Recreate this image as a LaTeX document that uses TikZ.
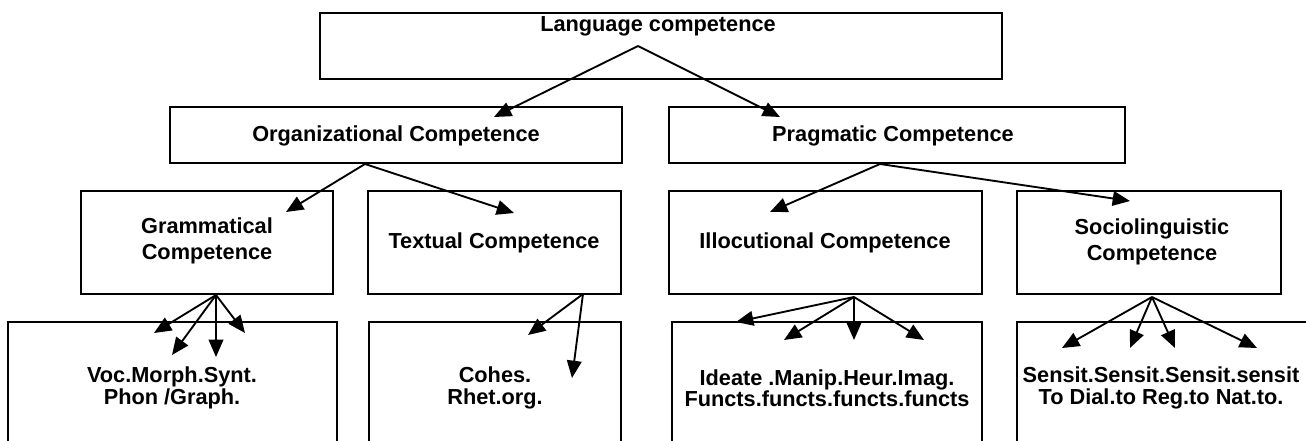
\documentclass[tikz,border=0pt]{standalone}
\usepackage{fontspec}
\setmainfont{Liberation Sans}
\usetikzlibrary{arrows.meta,fit}
\begin{document}
\begin{tikzpicture}[x=0.75pt,y=-0.75pt,
  box/.style={draw,line width=1.35pt,inner sep=0pt},
  lbl/.style={font=\fontsize{16.3}{16}\selectfont\bfseries,align=center,inner sep=0pt},
  lbltwo/.style={font=\fontsize{16.3}{19.5}\selectfont\bfseries,align=center,inner sep=0pt},
  arr/.style={line width=1.4pt,-{Triangle[length=13pt,width=11pt]}}]
\path[use as bounding box, clip] (0,0) rectangle (1306,441);

% level 1
\node[box,fit={(320,13) (1002,79)}] (lc) {};
\node[lbl] (lct) at (658,26) {Language competence};
% level 2
\node[box,fit={(170,107) (622,163)}] (oc) {};
\node[lbl] (oct) at (396,136) {Organizational Competence};
\node[box,fit={(669,107) (1125,163)}] (pc) {};
\node[lbl] (pct) at (893,136) {Pragmatic Competence};
% level 3
\node[box,fit={(81,191) (333,294)}] (gc) {};
\node[lbltwo] (gct) at (207,241) {Grammatical\\Competence};
\node[box,fit={(368,191) (621,294)}] (tc) {};
\node[lbl] (tct) at (494,243) {Textual Competence};
\node[box,fit={(669,191) (982,294)}] (ic) {};
\node[lbl] (ict) at (825,243) {Illocutional Competence};
\node[box,fit={(1017,191) (1281,294)}] (sc) {};
\node[lbltwo] (sct) at (1152,242) {Sociolinguistic\\Competence};
% level 4
\node[box,fit={(8,322) (337,452)}] (b1) {};
\node[lbl] (b1t) at (172,388) {Voc.Morph.Synt.\\Phon /Graph.};
\node[box,fit={(369,322) (621,452)}] (b2) {};
\node[lbl] (b2t) at (495,388) {Cohes.\\Rhet.org.};
\node[box,fit={(672,322) (982,452)}] (b3) {};
\node[lbl] (b3t) at (827,388) {Ideate .Manip.Heur.Imag.\\Functs.functs.functs.functs};
\node[box,fit={(1017,322) (1330,452)}] (b4) {};
\node[lbl] (b4t) at (1161,388) {Sensit.Sensit.Sensit.sensit\\To Dial.to Reg.to Nat.to.};

% connectors
\coordinate (lcA) at (638,46);
\coordinate (ocIn) at (494,117);
\coordinate (pcIn) at (780,117);
\draw[arr] (lcA) -- (ocIn);
\draw[arr] (lcA) -- (pcIn);

\coordinate (ocA) at (365,164);
\coordinate (gcIn) at (286,212);
\coordinate (tcIn) at (514,213);
\draw[arr] (ocA) -- (gcIn);
\draw[arr] (ocA) -- (tcIn);

\coordinate (pcA) at (880,164);
\coordinate (icIn) at (770,212);
\coordinate (scIn) at (1130,201);
\draw[arr] (pcA) -- (icIn);
\draw[arr] (pcA) -- (scIn);

\coordinate (gcA) at (216,295);
\coordinate (g1) at (154,333);
\coordinate (g2) at (172,355);
\coordinate (g3) at (216,357);
\coordinate (g4) at (245,333);
\foreach \t in {g1,g2,g3,g4} \draw[arr] (gcA) -- (\t);

\coordinate (tcA) at (583,294);
\coordinate (t1) at (528,335);
\coordinate (t2) at (572,378);
\foreach \t in {t1,t2} \draw[arr] (tcA) -- (\t);

\coordinate (icA) at (854,297);
\coordinate (i1) at (736,322);
\coordinate (i2) at (784,340);
\coordinate (i3) at (854,340);
\coordinate (i4) at (924,340);
\foreach \t in {i1,i2,i3,i4} \draw[arr] (icA) -- (\t);

\coordinate (scA) at (1152,297);
\coordinate (s1) at (1062,348);
\coordinate (s2) at (1130,348);
\coordinate (s3) at (1175,348);
\coordinate (s4) at (1257,348);
\foreach \t in {s1,s2,s3,s4} \draw[arr] (scA) -- (\t);
\end{tikzpicture}
\end{document}
